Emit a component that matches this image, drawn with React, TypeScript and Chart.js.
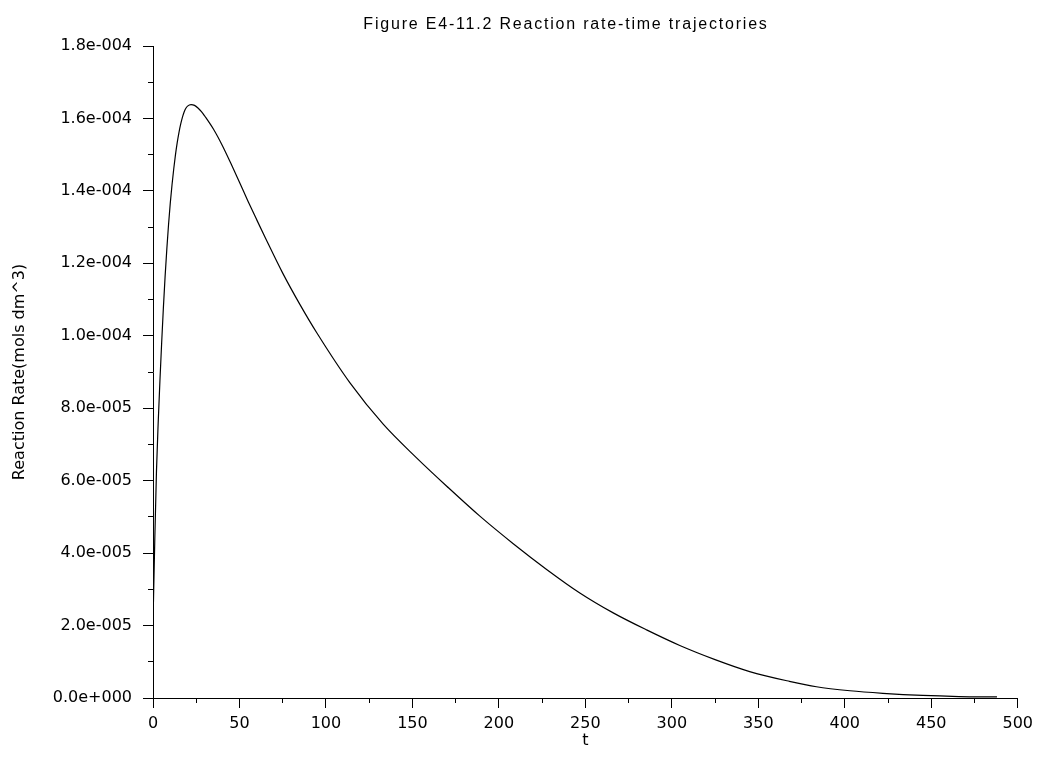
import { useEffect, useRef } from 'react';
import { Chart, registerables } from 'chart.js';

Chart.register(...registerables);

// ---- data ----
const tValues = [
  0, 1, 2, 3, 4, 5, 6, 7, 8, 9, 10, 11, 12, 13, 14, 15, 16, 17, 18, 19, 20, 22, 24,
  26, 28, 30, 35, 40, 45, 50, 55, 60, 65, 75, 85, 94.6, 113.9, 133.1, 152.4, 170,
  189, 208.3, 227.6, 246.8, 266.1, 285.4, 304.6, 325, 345, 368, 383.6, 403, 422,
  445, 466, 488,
];
const rateValues = [
  20.7e-6, 43.0e-6, 62.5e-6, 76.0e-6, 87.5e-6, 98.0e-6, 107.7e-6, 116.4e-6, 124.0e-6,
  130.8e-6, 136.7e-6, 141.7e-6, 146.1e-6, 150.0e-6, 153.3e-6, 156.1e-6, 158.4e-6,
  160.3e-6, 161.8e-6, 162.8e-6, 163.4e-6, 163.8e-6, 163.6e-6, 162.9e-6, 161.9e-6,
  160.6e-6, 157.0e-6, 152.6e-6, 147.6e-6, 142.4e-6, 137.1e-6, 132.0e-6, 127.0e-6,
  117.3e-6, 108.6e-6, 100.9e-6, 87.0e-6, 75.6e-6, 66.3e-6, 58.4e-6, 50.2e-6, 42.6e-6,
  35.5e-6, 29.0e-6, 23.5e-6, 18.8e-6, 14.5e-6, 10.6e-6, 7.3e-6, 4.6e-6, 3.1e-6,
  2.0e-6, 1.3e-6, 0.7e-6, 0.4e-6, 0.3e-6,
];
const xTickValues = [0, 50, 100, 150, 200, 250, 300, 350, 400, 450, 500];
const xMinorTickValues = [25, 75, 125, 175, 225, 275, 325, 375, 425, 475];
const yTickValues = [0, 2e-5, 4e-5, 6e-5, 8e-5, 1e-4, 1.2e-4, 1.4e-4, 1.6e-4, 1.8e-4];
const yMinorTickValues = [1e-5, 3e-5, 5e-5, 7e-5, 9e-5, 1.1e-4, 1.3e-4, 1.5e-4, 1.7e-4];
const chartTitle = 'Figure E4-11.2 Reaction rate-time trajectories';
const xTitle = 't';
const yTitle = 'Reaction Rate(mols dm^3)';

function sciLabel(v: number): string {
  if (Math.abs(v) < 1e-12) return '0.0e+000';
  const [m, e] = v.toExponential(1).split('e');
  const n = parseInt(e, 10);
  return m + 'e' + (n < 0 ? '-' : '+') + String(Math.abs(n)).padStart(3, '0');
}

const alignPx = (p: number) => Math.round(p - 0.5) + 0.5;

const decorPlugin = {
  id: 'decor',
  afterDraw(chart: any) {
    const { ctx, chartArea, scales } = chart;
    ctx.save();
    ctx.strokeStyle = '#000';
    ctx.lineWidth = 1;
    ctx.beginPath();
    for (const v of xMinorTickValues) {
      const px = alignPx(scales.x.getPixelForValue(v));
      ctx.moveTo(px, chartArea.bottom);
      ctx.lineTo(px, chartArea.bottom + 5);
    }
    for (const v of yMinorTickValues) {
      const py = alignPx(scales.y.getPixelForValue(v));
      ctx.moveTo(chartArea.left - 5, py);
      ctx.lineTo(chartArea.left, py);
    }
    ctx.stroke();
    ctx.fillStyle = '#000';
    ctx.font = '16px "Liberation Sans"';
    try { (ctx as any).letterSpacing = '1.8px'; } catch (e) {}
    ctx.textAlign = 'center';
    ctx.textBaseline = 'alphabetic';
    ctx.fillText(chartTitle, 566, 28.5);
    ctx.restore();
  },
};

export default function App() {
  const ref = useRef<HTMLCanvasElement | null>(null);
  useEffect(() => {
    if (!ref.current) return;
    const data = tValues.map((t, i) => ({ x: t, y: rateValues[i] }));
    const chart = new Chart(ref.current, {
      type: 'line',
      data: {
        datasets: [
          {
            data,
            borderColor: '#000',
            borderWidth: 1.2,
            pointRadius: 0,
            fill: false,
            cubicInterpolationMode: 'monotone',
          },
        ],
      },
      options: {
        animation: false,
        responsive: false,
        maintainAspectRatio: false,
        layout: { padding: { top: 46, right: 21, bottom: 0, left: 0 } },
        plugins: {
          legend: { display: false },
          tooltip: { enabled: false },
          title: { display: false },
        },
        scales: {
          x: {
            type: 'linear',
            min: 0,
            max: 500,
            afterBuildTicks: (s: any) => {
              s.ticks = xTickValues.map((v) => ({ value: v }));
            },
            afterFit: (s: any) => {
              s.height = 62;
            },
            ticks: {
              autoSkip: false,
              maxRotation: 0,
              padding: 6,
              color: '#000',
              font: { family: '"DejaVu Sans"', size: 16 },
              callback: (v: any) => String(v),
            },
            grid: {
              display: true,
              drawOnChartArea: false,
              drawTicks: true,
              tickLength: 10,
              tickColor: '#000',
              color: '#000',
            },
            border: { display: true, color: '#000', width: 1 },
            title: {
              display: true,
              text: xTitle,
              color: '#000',
              font: { family: '"DejaVu Sans"', size: 16 },
              padding: { top: 0, bottom: 10 },
            },
          },
          y: {
            type: 'linear',
            min: 0,
            max: 1.8e-4,
            afterBuildTicks: (s: any) => {
              s.ticks = yTickValues.map((v) => ({ value: v }));
            },
            afterFit: (s: any) => {
              s.width = 153;
            },
            ticks: {
              autoSkip: false,
              padding: 11,
              color: '#000',
              font: { family: '"DejaVu Sans"', size: 16 },
              callback: (v: any) => sciLabel(Number(v)),
            },
            grid: {
              display: true,
              drawOnChartArea: false,
              drawTicks: true,
              tickLength: 10,
              tickColor: '#000',
              color: '#000',
            },
            border: { display: true, color: '#000', width: 1 },
            title: {
              display: true,
              text: yTitle,
              color: '#000',
              font: { family: '"DejaVu Sans"', size: 16 },
              padding: { top: 10, bottom: 0 },
            },
          },
        },
      },
      plugins: [decorPlugin],
    } as any);
    return () => chart.destroy();
  }, []);
  return (
    <div style={{ position: 'absolute', left: 0, top: 0, width: 1039, height: 760, background: '#fff' }}>
      <canvas ref={ref} width={1039} height={760} style={{ display: 'block' }} />
    </div>
  );
}
